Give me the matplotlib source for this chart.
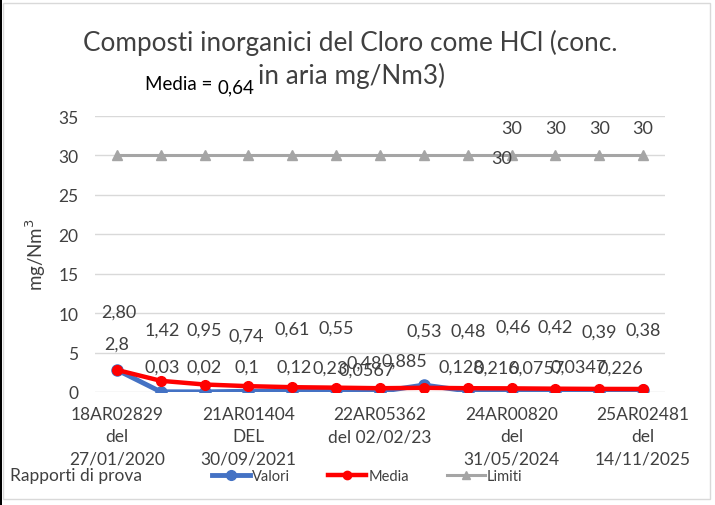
import matplotlib
matplotlib.use("Agg")
import matplotlib.pyplot as plt
from matplotlib.patches import Rectangle
from matplotlib.lines import Line2D

plt.rcParams['font.family'] = ['Lato', 'DejaVu Sans']

# ---- data ----
categories = ["18AR02829\ndel\n27/01/2020", "", "", "21AR01404\nDEL\n30/09/2021", "", "",
              "22AR05362\ndel 02/02/23", "", "", "24AR00820\ndel\n31/05/2024", "", "",
              "25AR02481\ndel\n14/11/2025"]
valori = [2.8, 0.03, 0.02, 0.1, 0.12, 0.23, 0.0567, 0.885, 0.128, 0.216, 0.0757, 0.0347, 0.226]
valori_labels = ["2,8", "0,03", "0,02", "0,1", "0,12", "0,23", "0,0567", "0,885", "0,128",
                 "0,216", "0,0757", "0,0347", "0,226"]
media = [2.80, 1.42, 0.95, 0.74, 0.61, 0.55, 0.48, 0.53, 0.48, 0.46, 0.42, 0.39, 0.38]
media_labels = ["2,80", "1,42", "0,95", "0,74", "0,61", "0,55", "0,48", "0,53", "0,48",
                "0,46", "0,42", "0,39", "0,38"]
limiti = [30] * 13
limiti_label_idx = [8, 9, 10, 11, 12]
media_totale = "0,64"
yticks = [0, 5, 10, 15, 20, 25, 30, 35]

# ---- label offsets (pixels) ----
v_off = [(0, 26), (1, 25), (0, 25), (-2, 25), (2, 24), (-6, 23), (-13, 22), (-19, 24),
         (-6, 24), (-15, 23), (-19, 24), (-21, 25), (-23, 23)]
m_off = [(2, 58), (1, 51), (0, 55), (-2, 51), (0, 59), (0, 60), (-16, 26), (0, 57),
         (0, 58), (2, 62), (0, 62), (0, 57), (0, 59)]
l_off = {8: (34, -3), 9: (0, 27), 10: (0, 27), 11: (0, 27), 12: (0, 27)}

W, H = 715, 506
fig = plt.figure(figsize=(W / 100, H / 100), dpi=100)
fig.patch.set_facecolor("white")

ax = fig.add_axes([95 / W, 1 - 393 / H, (665 - 95) / W, (393 - 117) / H])
x = list(range(len(categories)))

blue = "#4472C4"
red = "#FF0000"
gray = "#A5A5A5"
txt = "#404040"

ax.plot(x, limiti, color=gray, lw=2.2, marker="^", ms=7, zorder=2)
ax.plot(x, valori, color=blue, lw=3.5, marker="o", ms=8, zorder=3)
ax.plot(x, media, color=red, lw=3.2, marker="o", ms=7, zorder=4)

px2pt = 0.72
lab_fs = 13
for i, (v, lab) in enumerate(zip(valori, valori_labels)):
    dx, dy = v_off[i]
    ax.annotate(lab, (i, v), xytext=(dx * px2pt, dy * px2pt), textcoords="offset points",
                ha="center", va="center", fontsize=lab_fs, color=txt, zorder=6)
for i, (v, lab) in enumerate(zip(media, media_labels)):
    dx, dy = m_off[i]
    ax.annotate(lab, (i, v), xytext=(dx * px2pt, dy * px2pt), textcoords="offset points",
                ha="center", va="center", fontsize=lab_fs, color=txt, zorder=6)
for i in limiti_label_idx:
    dx, dy = l_off[i]
    ax.annotate(f"{limiti[i]}", (i, limiti[i]), xytext=(dx * px2pt, dy * px2pt),
                textcoords="offset points", ha="center", va="center", fontsize=lab_fs,
                color=txt, zorder=6)

ax.set_xlim(-0.5, len(categories) - 0.5)
ax.set_ylim(0, 35)
ax.set_yticks(yticks)
ax.set_yticklabels([str(t) for t in yticks])
ax.set_xticks(x)
ax.set_xticklabels(categories, linespacing=1.5)
ax.tick_params(axis="both", length=0, labelsize=12.5, labelcolor=txt)
ax.tick_params(axis="y", pad=12)
ax.tick_params(axis="x", pad=10)
ax.grid(axis="y", color="#D9D9D9", lw=1)
ax.set_axisbelow(True)
for s in ax.spines.values():
    s.set_visible(False)

ax.set_ylabel("mg/Nm$^3$", fontsize=13.5, color=txt, labelpad=7)

# title
fig.text(350 / W, 1 - 43 / H, "Composti inorganici del Cloro come HCl (conc.",
         ha="center", va="center", fontsize=18.8, color=txt)
fig.text(351 / W, 1 - 76 / H, "in aria mg/Nm3)", ha="center", va="center",
         fontsize=18.8, color=txt)
fig.text(145 / W, 1 - 85 / H, "Media =", ha="left", va="center", fontsize=13.5, color="black")
fig.text(217 / W, 1 - 88 / H, media_totale, ha="left", va="center", fontsize=13.5, color="black")

# x-axis title
fig.text(10 / W, 1 - 476 / H, "Rapporti di prova", ha="left", va="center",
         fontsize=12.5, color=txt)

# legend
handles = [Line2D([], [], color=blue, lw=3.5, marker="o", ms=7),
           Line2D([], [], color=red, lw=3.2, marker="o", ms=6),
           Line2D([], [], color=gray, lw=2.2, marker="^", ms=6)]
fig.legend(handles, ["Valori", "Media", "Limiti"], loc="center left",
           bbox_to_anchor=(199 / W, 1 - 477 / H), ncol=3, frameon=False,
           fontsize=10.5, handlelength=2.6, handletextpad=0.15, columnspacing=2.6,
           labelcolor=txt)

# chart border
fig.patches.append(Rectangle((3 / W, 1 - 500 / H), 707 / W, 496 / H, transform=fig.transFigure,
                             fill=False, edgecolor="#D9D9D9", lw=1))
fig.patches.append(Rectangle((0, 0), 2 / W, 1, transform=fig.transFigure,
                             facecolor="black", edgecolor="none"))

fig.savefig("out.png", dpi=100)
